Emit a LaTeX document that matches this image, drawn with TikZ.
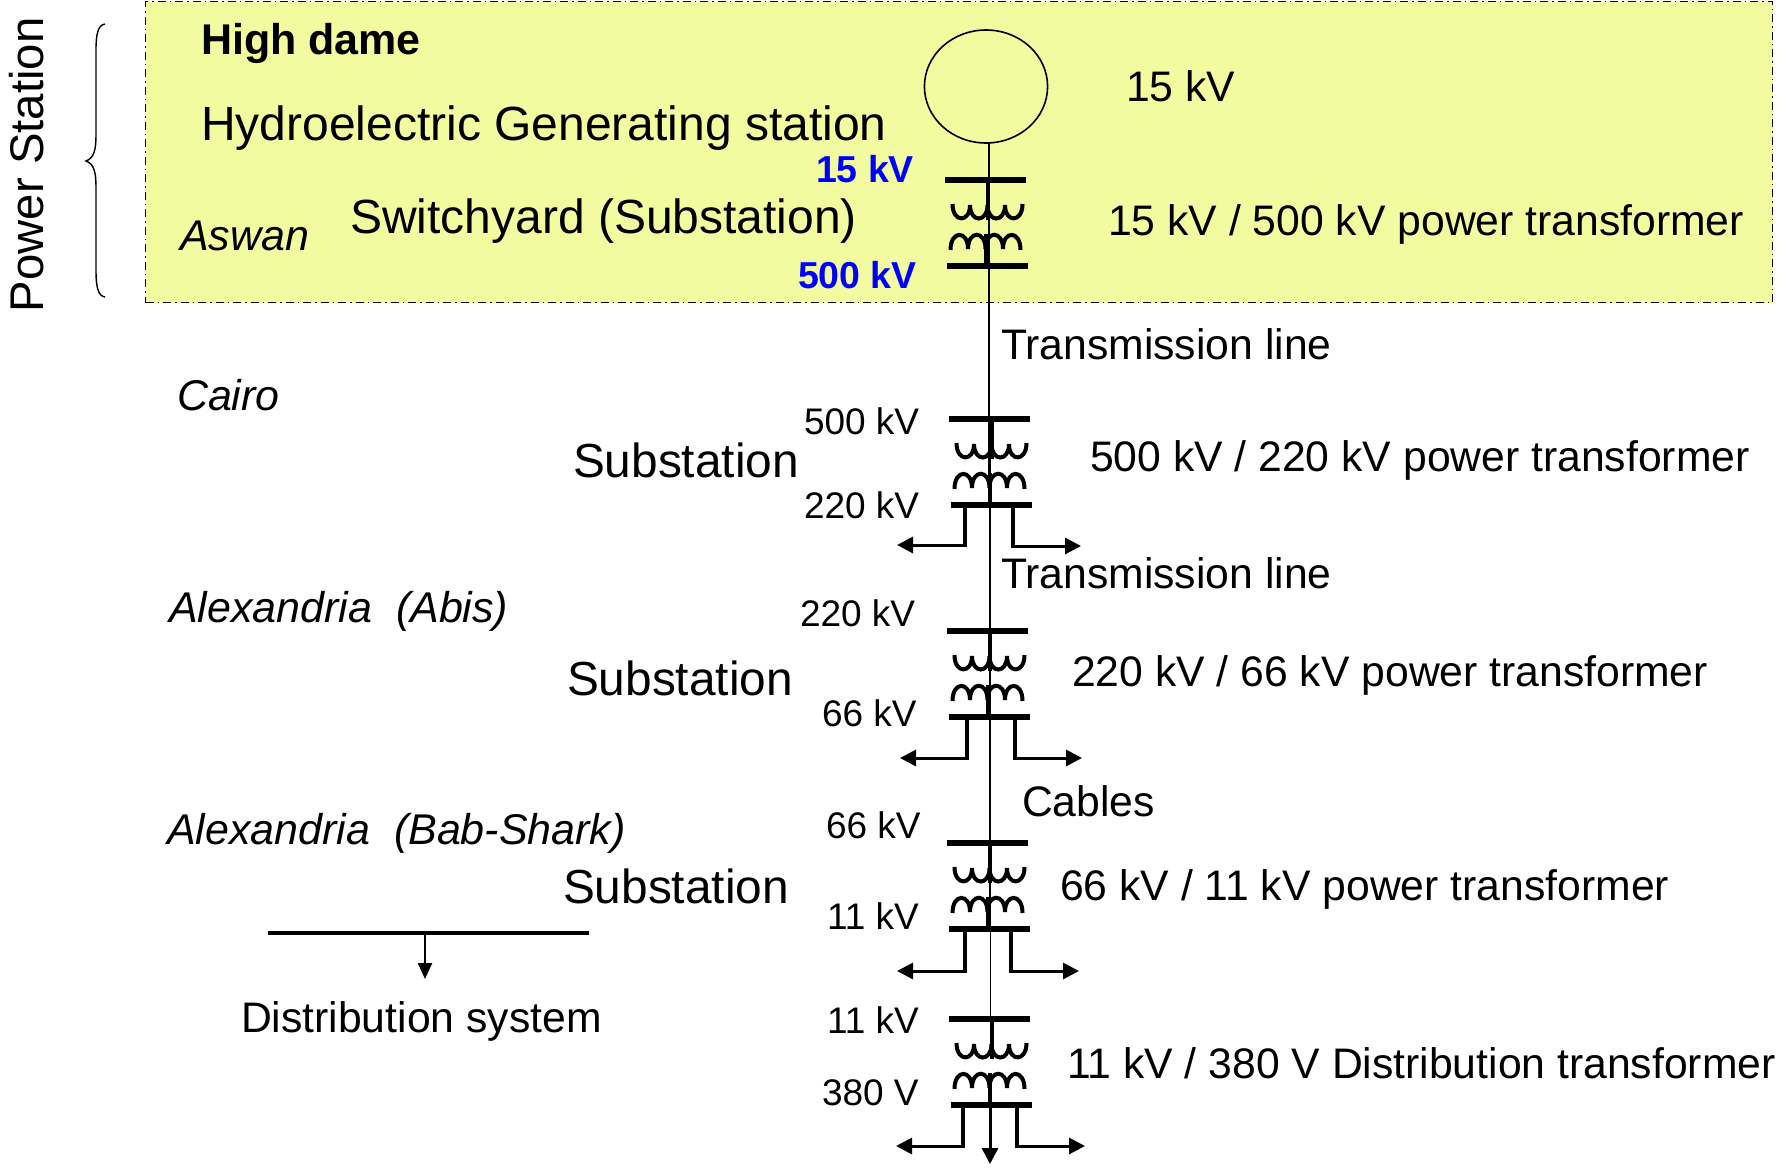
\documentclass[tikz,border=0pt]{standalone}
\usepackage{fontspec}
\setmainfont{Liberation Sans}
\usetikzlibrary{arrows.meta}
\definecolor{boxyellow}{RGB}{243,251,160}
\definecolor{kvblue}{RGB}{0,0,255}
\newcommand{\fs}[1]{\fontsize{#1}{#1}\selectfont}
\newcommand{\xfmr}[3]{%
  \node[busbar] (#1top) at (#2,#3) {};
  \node[busbar] (#1bot) at (#2+2,#3+86) {};
  \begin{scope}[shift={(#2,#3)}]
    \draw[coilline] (-33,24) .. controls (-33,43) and (-15.5,43) .. (-15.5,25)
      .. controls (-15.5,43) and (2,43) .. (2,25)
      .. controls (2,43) and (19.5,43) .. (19.5,25)
      .. controls (19.5,43) and (37,43) .. (37,24);
    \draw[coilline] (-35,70) .. controls (-35,50) and (-17.5,50) .. (-17.5,69)
      .. controls (-17.5,50) and (0,50) .. (0,69)
      .. controls (0,50) and (17.5,50) .. (17.5,69)
      .. controls (17.5,50) and (35,50) .. (35,70);
    \draw[stemline] (2,0) -- (2,40);
    \draw[stemline] (0,54) -- (0,86);
  \end{scope}}
\newcommand{\feeders}[7]{% name, lx, rx, ly, ry, ltip, rtip
  \coordinate (#1lb) at (#2,#4); \coordinate (#1rb) at (#3,#5);
  \coordinate (#1lt) at (#6,#4); \coordinate (#1rt) at (#7,#5);
  \draw[stemline] (#2,#4+1.5) -- (#1bot.south -| #1lb);
  \draw[stemline] (#3,#5+1.5) -- (#1bot.south -| #1rb);
  \draw[feederline] (#1lb) -- (#1lt);
  \draw[feederline] (#1rb) -- (#1rt);}
\tikzset{
  x=1pt,y=-1pt,
  busbar/.style={fill=black,draw=none,minimum width=81pt,minimum height=6pt,inner sep=0pt,outer sep=0pt},
  coilline/.style={line width=4pt,line cap=butt},
  stemline/.style={line width=4pt},
  mainline/.style={line width=1.7pt},
  feederline/.style={line width=3pt,-{Triangle[length=16pt,width=16pt]}},
  lab/.style={anchor=base west,inner sep=0pt,outer sep=0pt,text=black},
}
\begin{document}
\begin{tikzpicture}
\useasboundingbox (0,0) rectangle (1787,1167);
% yellow station box
\node[draw=black,dash pattern=on 8pt off 4pt on 1.5pt off 4pt,line width=1.5pt,fill=boxyellow,
  minimum width=1627pt,minimum height=301pt,inner sep=0pt,anchor=north west] (station) at (144.8,0.8) {};
% brace
\coordinate (braceA) at (105,24);
\coordinate (braceB) at (105,297);
\coordinate (braceTip) at (86,161);
\draw[line width=1.4pt] (braceA) .. controls (98,25) and (96,34) .. (96,50) -- (96,135)
  .. controls (96,150) and (94,158) .. (braceTip) .. controls (94,164) and (96,172) .. (96,187)
  -- (96,270) .. controls (96,287) and (98,296) .. (braceB);
\node[lab,rotate=90,font=\fs{47.3}] (ps) at (43,312) {Power Station};
% generator
\node[draw=black,line width=1.6pt,circle,inner sep=0pt,minimum size=113pt,xscale=1.09] (gen) at (986,86.5) {};
% transformers
\xfmr{a}{985.5}{180}
\xfmr{b}{989.5}{419}
\xfmr{c}{987.5}{631}
\xfmr{d}{987.5}{843}
\xfmr{e}{989.5}{1019}
% main line
\coordinate (g0) at (989,143);
\draw[mainline] (g0) -- (g0 |- bbot);
\coordinate (m1) at (990,419);
\draw[mainline] (m1) -- (m1 |- dbot);
\coordinate (m2) at (990.5,930);
\draw[mainline] (m2) -- (m2 |- etop);
\coordinate (m3) at (990,1105);
\coordinate (m4) at (990,1164);
\draw[line width=3pt,-{Triangle[length=16pt,width=16pt]}] (m3) -- (m4);
% feeders
\feeders{b}{965}{1013}{545}{546}{897}{1081}
\feeders{c}{967}{1015}{758}{758}{900}{1082}
\feeders{d}{965}{1011}{971}{971}{897}{1079}
\feeders{e}{963}{1017}{1146}{1146}{896}{1085}
% distribution
\coordinate (dl) at (268,933);
\coordinate (dr) at (589,933);
\coordinate (dm) at (425,933);
\coordinate (dt) at (425,979);
\draw[line width=3.2pt] (dl) -- (dr);
\draw[line width=2.4pt,-{Triangle[length=16pt,width=14pt]}] (dm) -- (dt);
% texts
\node[lab,font=\fs{43}\bfseries] (t1) at (201,54) {High dame};
\node[lab,font=\fs{48}] (t2) at (201,140) {Hydroelectric Generating station};
\node[lab,font=\fs{48}] (t3) at (350,233) {Switchyard (Substation)};
\node[lab,font=\fs{43}\itshape] (t4) at (180,250) {Aswan};
\node[lab,font=\fs{42.7}] (t5) at (1126,101) {15 kV};
\node[lab,font=\fs{42.7}] (t6) at (1108,235) {15 kV / 500 kV power transformer};
\node[lab,font=\fs{37.5}\bfseries,text=kvblue] (t7) at (816,182) {15 kV};
\node[lab,font=\fs{37.5}\bfseries,text=kvblue] (t8) at (798,288) {500 kV};
\node[lab,font=\fs{42.7}] (t9) at (1001,359) {Transmission line};
\node[lab,font=\fs{43}\itshape] (t10) at (177,410) {Cairo};
\node[lab,font=\fs{37}] (t11) at (804,434) {500 kV};
\node[lab,font=\fs{37}] (t12) at (804,518) {220 kV};
\node[lab,font=\fs{47.8}] (t13) at (573,477) {Substation};
\node[lab,font=\fs{42.7}] (t14) at (1090,471) {500 kV / 220 kV power transformer};
\node[lab,font=\fs{42.7}] (t15) at (1001,588) {Transmission line};
\node[lab,font=\fs{43}\itshape] (t16) at (169,622) {Alexandria\ \ (Abis)};
\node[lab,font=\fs{37}] (t17) at (800,626) {220 kV};
\node[lab,font=\fs{37}] (t18) at (822,726) {66 kV};
\node[lab,font=\fs{47.8}] (t19) at (567,695) {Substation};
\node[lab,font=\fs{42.7}] (t20) at (1072,686) {220 kV / 66 kV power transformer};
\node[lab,font=\fs{42.7}] (t21) at (1022,816) {Cables};
\node[lab,font=\fs{43}\itshape] (t22) at (167,844) {Alexandria\ \ (Bab-Shark)};
\node[lab,font=\fs{37}] (t23) at (826,838) {66 kV};
\node[lab,font=\fs{37}] (t24) at (827,929) {11 kV};
\node[lab,font=\fs{47.8}] (t25) at (563,903) {Substation};
\node[lab,font=\fs{42.7}] (t26) at (1060,900) {66 kV / 11 kV power transformer};
\node[lab,font=\fs{42.7}] (t27) at (241,1032) {Distribution system};
\node[lab,font=\fs{37}] (t28) at (827,1033) {11 kV};
\node[lab,font=\fs{37}] (t29) at (822,1105) {380 V};
\node[lab,font=\fs{42.7}] (t30) at (1067,1078) {11 kV / 380 V Distribution transformer};
\end{tikzpicture}
\end{document}
